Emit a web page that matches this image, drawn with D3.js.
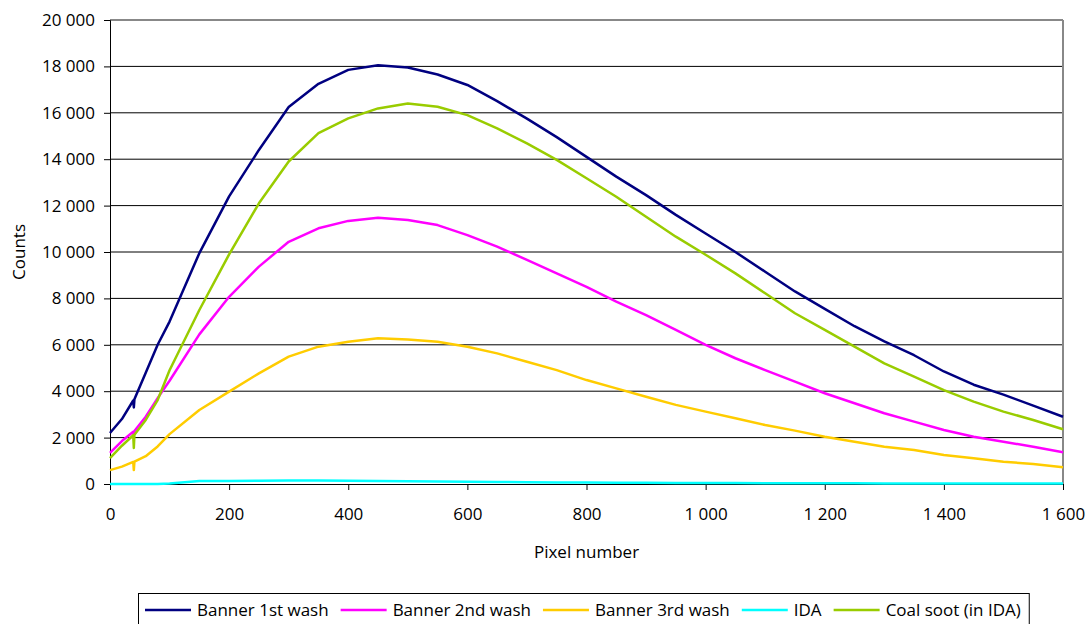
<!DOCTYPE html>
<html>
<head>
<meta charset="utf-8">
<script src="https://cdn.jsdelivr.net/npm/d3@7"></script>
<style>
  body { margin: 0; background: #fff; }
  text { font-family: "Open Sans", Lato, sans-serif; fill: #000; }
</style>
</head>
<body>
<div id="chart"></div>
<script>
const pixels = [0, 20, 39, 40, 41, 60, 80, 100, 150, 200, 250, 300, 350, 400, 450, 500,
  550, 600, 650, 700, 750, 800, 850, 900, 950, 1000, 1050, 1100, 1150, 1200,
  1250, 1300, 1350, 1400, 1450, 1500, 1550, 1600];

const banner1 = [2200, 2800, 3600, 3300, 3650, 4800, 6000, 7000, 9950, 12400, 14400, 16250, 17250, 17850, 18050, 17950,
  17650, 17200, 16500, 15750, 14950, 14100, 13250, 12450, 11600, 10800, 10000, 9150, 8300, 7550,
  6800, 6150, 5550, 4850, 4280, 3850, 3380, 2900];
const banner2 = [1340, 1850, 2250, 2100, 2280, 2900, 3700, 4450, 6450, 8070, 9370, 10440, 11020, 11340, 11480, 11380,
  11160, 10730, 10230, 9660, 9080, 8500, 7860, 7280, 6640, 6000, 5420, 4910, 4410, 3910,
  3480, 3050, 2690, 2330, 2040, 1820, 1610, 1370];
const banner3 = [600, 750, 950, 600, 960, 1200, 1620, 2150, 3190, 3980, 4770, 5490, 5920, 6130, 6280, 6230,
  6130, 5920, 5630, 5270, 4910, 4480, 4120, 3760, 3410, 3120, 2830, 2540, 2300, 2040,
  1820, 1610, 1470, 1250, 1110, 960, 860, 720];
const ida = [0, 0, 0, 0, 0, 0, 0, 20, 130, 130, 140, 150, 150, 140, 130, 120,
  110, 100, 90, 80, 70, 60, 55, 50, 45, 40, 38, 35, 32, 30,
  28, 26, 25, 25, 23, 22, 21, 20];
const coalSoot = [1120, 1650, 2100, 1550, 2120, 2760, 3620, 4900, 7500, 9900, 12100, 13900, 15120, 15760, 16190, 16400,
  16260, 15900, 15330, 14680, 13970, 13180, 12380, 11520, 10660, 9880, 9080, 8220, 7360, 6640,
  5920, 5200, 4630, 4050, 3550, 3120, 2760, 2360];

const seriesNames = ["Banner 1st wash", "Banner 2nd wash", "Banner 3rd wash", "IDA", "Coal soot (in IDA)"];
const seriesColors = ["#000080", "#ff00ff", "#ffcc00", "#00ffff", "#99cc00"];
const seriesValues = [banner1, banner2, banner3, ida, coalSoot];

const yTicks = [0, 2000, 4000, 6000, 8000, 10000, 12000, 14000, 16000, 18000, 20000];
const xTicks = [0, 200, 400, 600, 800, 1000, 1200, 1400, 1600];

const width = 1088, height = 624;
const margin = { left: 110, right: 25, top: 20, bottom: 140 };
const fontSize = 17;

const svg = d3.select("#chart").append("svg")
  .attr("width", width)
  .attr("height", height);

const x = d3.scaleLinear().domain([0, 1600]).range([margin.left, width - margin.right]);
const y = d3.scaleLinear().domain([0, 20000]).range([height - margin.bottom, margin.top]);

const fmt = d3.formatLocale({ decimal: ",", thousands: " ", grouping: [3], currency: ["", ""] }).format(",");

// gridlines
svg.append("g")
  .selectAll("line")
  .data(yTicks.slice(1))
  .join("line")
  .attr("x1", x(0)).attr("x2", x(1600))
  .attr("y1", d => y(d)).attr("y2", d => y(d))
  .attr("stroke", d => d === 20000 ? "#888" : "#000")
  .attr("stroke-width", d => d === 20000 ? 2 : 1);

// right border
svg.append("line")
  .attr("x1", x(1600)).attr("x2", x(1600))
  .attr("y1", y(20000)).attr("y2", y(0))
  .attr("stroke", "#888")
  .attr("stroke-width", 2);

// y axis
const yAxis = svg.append("g")
  .attr("transform", `translate(${x(0)},0)`)
  .call(d3.axisLeft(y).tickValues(yTicks).tickFormat(fmt).tickSize(6).tickPadding(9));
yAxis.select(".domain").attr("stroke", "#000");
yAxis.selectAll("text").attr("font-size", fontSize).style("font-family", "'Open Sans', sans-serif");

// x axis
const xAxis = svg.append("g")
  .attr("transform", `translate(0,${y(0)})`)
  .call(d3.axisBottom(x).tickValues(xTicks).tickFormat(fmt).tickSize(6).tickPadding(18));
xAxis.select(".domain").attr("stroke", "#000");
xAxis.selectAll("text").attr("font-size", fontSize).style("font-family", "'Open Sans', sans-serif");

// axis titles
svg.append("text")
  .attr("transform", `translate(25,${(y(0) + y(20000)) / 2}) rotate(-90)`)
  .attr("text-anchor", "middle")
  .attr("font-size", fontSize)
  .text("Counts");

svg.append("text")
  .attr("x", (x(0) + x(1600)) / 2)
  .attr("y", 558)
  .attr("text-anchor", "middle")
  .attr("font-size", fontSize)
  .text("Pixel number");

// series lines
const line = d3.line()
  .x(d => x(d[0]))
  .y(d => y(d[1]));

const plot = svg.append("g");
seriesValues.forEach((vals, i) => {
  plot.append("path")
    .datum(pixels.map((p, j) => [p, vals[j]]))
    .attr("fill", "none")
    .attr("stroke", seriesColors[i])
    .attr("stroke-width", 2.5)
    .attr("stroke-linejoin", "round")
    .attr("d", line);
});

// legend
const legend = svg.append("g");
const legendBox = legend.append("rect")
  .attr("fill", "#fff")
  .attr("stroke", "#000")
  .attr("stroke-width", 1);

let lx = 145;
const ly = 610;
seriesNames.forEach((name, i) => {
  legend.append("line")
    .attr("x1", lx).attr("x2", lx + 46)
    .attr("y1", ly).attr("y2", ly)
    .attr("stroke", seriesColors[i])
    .attr("stroke-width", 2.5);
  const t = legend.append("text")
    .attr("x", lx + 52)
    .attr("y", ly)
    .attr("dy", "0.35em")
    .attr("font-size", fontSize)
    .text(name);
  lx += 52 + t.node().getComputedTextLength() + 12;
});
legendBox
  .attr("x", 138.5).attr("y", 593.5)
  .attr("width", lx - 138 - 4).attr("height", 40);
</script>
</body>
</html>
